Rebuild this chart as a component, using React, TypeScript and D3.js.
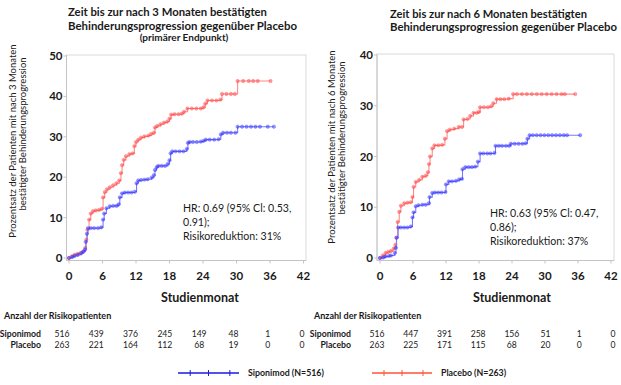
import React from "react";
import * as d3 from "d3";

// ---------- DATA ----------
const monthTicks = [0, 6, 12, 18, 24, 30, 36, 42];

// Left panel (3-month confirmed disability progression): [month, percent]
const placebo3: [number, number][] = [
  [0,0],[0.5,0.4],[1,0.8],[1.5,1],[2,1.2],[2.5,1.6],[2.9,2.5],[3.1,4.5],[3.3,7],[3.6,9.5],[3.9,11],[4.3,11.6],[4.8,11.8],[5.4,11.9],[5.9,12.2],
  [6.1,15],[6.4,16.3],[6.8,17],[7.3,17.5],[7.9,18],[8.5,18.5],[9.0,19.2],[9.3,21],[9.5,23],[9.8,24.3],[10.2,25.2],[10.8,25.7],[11.4,25.9],
  [11.7,27.7],[12,28.7],[12.4,29.3],[12.9,29.8],[13.5,30.1],[14.2,30.3],[14.7,30.7],[15.2,31],[15.4,32.3],[15.8,32.7],[16.4,33.1],[17,33.5],
  [17.6,33.8],[18.0,34.5],[18.3,35.5],[18.9,35.6],[19.6,35.6],[20.2,35.7],[20.6,36.2],[21.2,37],[22,37],[22.8,37],[23.6,37],[24.1,37.3],
  [24.4,38.2],[24.8,39],[25.6,39],[26.4,39],[27.1,39.2],[27.4,40.6],[28.2,40.6],[29,40.6],[29.7,40.6],[30.2,43.8],[31.2,43.8],[32.2,43.8],
  [33,43.8],[33.8,43.8],[36.1,43.8]
];
const siponimod3: [number, number][] = [
  [0,0],[0.6,0.3],[1,0.5],[1.6,0.8],[2.2,1.2],[2.6,1.6],[2.9,2.1],[3.0,4],[3.2,6],[3.4,7.4],[3.9,7.4],[4.5,7.4],[5.2,7.4],[5.8,7.6],
  [6.1,9.5],[6.3,11],[6.7,12.3],[7.3,12.8],[7.9,12.9],[8.5,12.9],[8.9,13.3],[9.1,15],[9.5,16],[10,16.2],[10.6,16.2],[11.2,16.2],[11.8,16.4],
  [12.1,18.5],[12.4,19.2],[12.9,19.3],[13.5,19.4],[14.1,19.5],[14.8,19.9],[15.2,20.5],[15.4,21.8],[15.7,22.5],[16,22.8],[16.6,22.8],[17.2,22.8],
  [17.7,23.3],[18.0,24.2],[18.2,25.9],[18.5,26.4],[19.1,26.4],[19.8,26.4],[20.5,26.4],[21.1,27],[21.3,28.5],[21.6,28.7],[22.2,28.7],[22.9,28.7],
  [23.6,28.8],[24.1,29],[24.5,29.3],[25.2,29.3],[26,29.3],[26.8,29.4],[27.2,30.6],[27.6,31],[28.3,31],[29,31],[29.8,31],[30.2,32.5],[31,32.5],
  [31.8,32.5],[32.6,32.5],[33.4,32.5],[34.2,32.5],[35.6,32.5],[36.7,32.5]
];

// Right panel (6-month confirmed disability progression)
const placebo6: [number, number][] = [
  [0,0],[0.5,0.5],[1,1],[1.5,1.2],[2,1.4],[2.5,1.9],[2.8,2.6],[3.0,4],[3.2,7.1],[3.5,9.1],[3.8,10.3],[4.4,10.8],[5,10.9],[5.6,11],[5.9,12],
  [6.1,14],[6.5,15],[7.1,15.4],[7.7,16],[8.3,16.2],[8.7,16.9],[8.9,18.5],[9.1,20],[9.5,21.6],[9.9,22.2],[10.6,22.2],[11.3,22.3],[11.8,23.5],
  [12.2,25],[12.7,25.3],[13.5,25.5],[14.3,25.8],[14.9,25.8],[15.2,27.3],[15.9,27.4],[16.4,28],[17,28.6],[17.6,28.6],[18.0,28.8],[18.2,29.7],
  [18.9,29.7],[19.6,29.7],[20.2,29.9],[20.6,30.5],[21.2,31.3],[21.9,31.3],[22.6,31.3],[23.4,31.4],[24.2,32.3],[24.9,32.3],[25.8,32.3],
  [26.7,32.3],[27.6,32.3],[28.5,32.3],[29.4,32.3],[30.3,32.3],[31.2,32.3],[32.1,32.3],[33,32.3],[33.6,32.3],[35.5,32.3]
];
const siponimod6: [number, number][] = [
  [0,0],[0.6,0.1],[1,0.3],[1.6,0.4],[2,0.5],[2.7,1],[2.9,2],[3.0,4],[3.3,6],[3.8,6],[4.4,6],[5,6],[5.6,6.2],[5.9,8],[6.1,9],[6.5,10.2],
  [7,10.4],[7.7,10.5],[8.3,10.5],[8.9,10.8],[9.0,12],[9.5,12.8],[10,12.9],[10.6,12.9],[11.2,12.9],[11.9,13],[12.0,14.5],[12.5,15.1],[13.1,15.1],
  [13.8,15.2],[14.4,15.5],[14.9,15.6],[15.0,17.5],[15.5,17.9],[16.1,17.9],[16.7,17.9],[17.3,18],[17.8,19],[18.2,20.6],[18.8,20.6],[19.5,20.6],
  [20.1,20.6],[20.8,20.7],[21.0,22.1],[21.6,22.1],[22.2,22.1],[22.9,22.1],[23.5,22.1],[23.8,22.5],[24.5,22.5],[25.2,22.5],[25.9,22.5],[26.5,22.6],
  [26.8,23.5],[27.2,24.2],[27.8,24.2],[28.5,24.2],[29.2,24.2],[29.9,24.2],[30.6,24.2],[31.3,24.2],[32,24.2],[32.7,24.2],[33.4,24.2],[34,24.2],[36.4,24.2]
];

// Patients at risk
const riskSiponimod3 = [516, 439, 376, 245, 149, 48, 1, 0];
const riskPlacebo3 = [263, 221, 164, 112, 68, 19, 0, 0];
const riskSiponimod6 = [516, 447, 391, 258, 156, 51, 1, 0];
const riskPlacebo6 = [263, 225, 171, 115, 68, 20, 0, 0];

const yTicks3 = [0, 10, 20, 30, 40, 50];
const yTicks6 = [0, 10, 20, 30, 40];

// ---------- STYLE ----------
const FONT = "Lato, 'Open Sans', sans-serif";
const BLUE_LINE = "#7a7aff";
const BLUE_MARK = "#2a2aff";
const RED_LINE = "#ff8a8a";
const RED_MARK = "#ff3a3a";
const INK = "#1a1a1a";

type TitleLine = { text: string; x: number; y: number; size: number; anchor?: string; len?: number };
type PanelProps = {
  left: number; right: number; x0: number; x1: number;
  top: number; yTopPx: number; yMax: number; yTicks: number[];
  placebo: [number, number][]; siponimod: [number, number][];
  titleLines: TitleLine[];
  yTitle: [string, string]; yTitleX: [number, number]; yTitleY: [number, number];
  hr: string[]; hrX: number; hrY: number;
  studX: number;
  riskS: number[]; riskP: number[]; riskX0: number; riskX1: number; labelRight: number;
};

function Series({ data, x, y, line, mark }: any) {
  const gen = d3.line<[number, number]>().x(d => x(d[0])).y(d => y(d[1])).curve(d3.curveStepAfter);
  return (
    <g>
      <path d={gen(data) || ""} fill="none" stroke={line} strokeWidth={1.1} />
      {data.map((d: [number, number], i: number) => (
        <circle key={i} cx={x(d[0])} cy={y(d[1])} r={1.7} fill={mark} fillOpacity={0.45} stroke={mark} strokeOpacity={0.5} strokeWidth={0.6} />
      ))}
    </g>
  );
}

function Panel(p: PanelProps) {
  const bottomPx = 258;
  const x = d3.scaleLinear().domain([0, 42]).range([p.x0, p.x1]);
  const y = d3.scaleLinear().domain([0, p.yMax]).range([bottomPx, p.yTopPx]);
  const frameBottom = 260.5;
  const risk = d3.scalePoint<number>().domain(monthTicks).range([p.riskX0, p.riskX1]);
  return (
    <g fontFamily={FONT}>
      {p.titleLines.map((t, i) => (
        <text key={i} x={t.x} y={t.y} fontSize={t.size} fontWeight="bold" textAnchor={t.anchor || "start"} fill={INK}
          {...(t.len ? { textLength: t.len, lengthAdjust: "spacingAndGlyphs" } : {})}>{t.text}</text>
      ))}
      <rect x={p.left} y={p.top} width={p.right - p.left} height={frameBottom - p.top} fill="none" stroke="#d9d9d9" strokeWidth={1} />
      <line x1={p.left} x2={p.left} y1={p.top} y2={frameBottom} stroke="#c4c4c4" />
      <line x1={p.left} x2={p.right} y1={frameBottom} y2={frameBottom} stroke="#c4c4c4" />
      {p.yTicks.map(v => (
        <g key={v}>
          <line x1={p.left - 3} x2={p.left} y1={y(v)} y2={y(v)} stroke="#c4c4c4" />
          <text x={p.left - 4} y={y(v)} dy="0.35em" textAnchor="end" fontSize={11.5} fontWeight="bold" fill={INK}>{v}</text>
        </g>
      ))}
      {monthTicks.map(v => (
        <g key={v}>
          <line x1={x(v)} x2={x(v)} y1={frameBottom} y2={frameBottom + 3} stroke="#c4c4c4" />
          <text x={x(v)} y={279.5} textAnchor="middle" fontSize={11.5} fontWeight="bold" fill={INK}>{v}</text>
        </g>
      ))}
      <Series data={p.placebo} x={x} y={y} line={RED_LINE} mark={RED_MARK} />
      <Series data={p.siponimod} x={x} y={y} line={BLUE_LINE} mark={BLUE_MARK} />
      {p.hr.map((t, i) => (
        <text key={i} x={p.hrX} y={p.hrY + i * 14} fontSize={10.6} fill={INK}>{t}</text>
      ))}
      {p.yTitle.map((t, i) => (
        <text key={i} transform={`translate(${p.yTitleX[i]},${p.yTitleY[i]}) rotate(-90)`} textAnchor="middle" fontSize={9.5} fill={INK}>{t}</text>
      ))}
      <text x={p.studX} y={302} textAnchor="middle" fontSize={12.5} fontWeight="bold" fill={INK}>Studienmonat</text>
      <text x={p.labelRight - 37} y={319} fontSize={9} fontWeight="bold" fill={INK}>Anzahl der Risikopatienten</text>
      <text x={p.labelRight} y={337} textAnchor="end" fontSize={8.7} fontWeight="bold" fill={INK}>Siponimod</text>
      <text x={p.labelRight} y={348} textAnchor="end" fontSize={8.7} fontWeight="bold" fill={INK}>Placebo</text>
      {monthTicks.map((m, i) => (
        <g key={m}>
          <text x={risk(m)} y={337} textAnchor="middle" fontSize={8.6} fill={INK}>{p.riskS[i]}</text>
          <text x={risk(m)} y={348} textAnchor="middle" fontSize={8.6} fill={INK}>{p.riskP[i]}</text>
        </g>
      ))}
    </g>
  );
}

function LegendItem({ x0, x1, y, color, label }: any) {
  const ticks = [0.2, 0.5, 0.85].map(f => x0 + (x1 - x0) * f);
  return (
    <g fontFamily={FONT}>
      <line x1={x0} x2={x1} y1={y} y2={y} stroke={color} strokeWidth={1.6} />
      {ticks.map((t, i) => <line key={i} x1={t} x2={t} y1={y - 3} y2={y + 3} stroke={color} strokeWidth={1} />)}
      <text x={x1 + 9} y={y} dy="0.35em" fontSize={8.8} fontWeight="bold" fill={INK}>{label}</text>
    </g>
  );
}

export default function App() {
  return (
    <svg width={621} height={385} style={{ position: "absolute", left: 0, top: 0, background: "#fff" }}>
      <Panel
        left={66.5} right={306} x0={69} x1={303.5} top={55} yTopPx={56} yMax={50} yTicks={yTicks3}
        placebo={placebo3} siponimod={siponimod3}
        titleLines={[
          { text: "Zeit bis zur nach 3 Monaten bestätigten", x: 68, y: 16, size: 12, len: 199 },
          { text: "Behinderungsprogression gegenüber Placebo", x: 68, y: 29.5, size: 12, len: 229 },
          { text: "(primärer Endpunkt)", x: 184, y: 41, size: 10, anchor: "middle" },
        ]}
        yTitle={["Prozentsatz  der Patienten mit nach 3  Monaten", "bestätigter Behinderungsprogression"]}
        yTitleX={[16, 26]} yTitleY={[141, 134]}
        hr={["HR: 0.69 (95% Cl: 0.53,", "0.91);", "Risikoreduktion: 31%"]} hrX={183} hrY={212}
        studX={200}
        riskS={riskSiponimod3} riskP={riskPlacebo3} riskX0={62} riskX1={302} labelRight={41}
      />
      <Panel
        left={377} right={614} x0={380} x1={611} top={54} yTopPx={55} yMax={40} yTicks={yTicks6}
        placebo={placebo6} siponimod={siponimod6}
        titleLines={[
          { text: "Zeit bis zur nach 6 Monaten bestätigten", x: 390, y: 18, size: 11.4, len: 197 },
          { text: "Behinderungsprogression gegenüber Placebo", x: 390, y: 31, size: 11.4, len: 227 },
        ]}
        yTitle={["Prozentsatz  der Patienten mit nach 6 Monaten", "bestätigter Behinderungsprogression"]}
        yTitleX={[335, 345]} yTitleY={[147, 138]}
        hr={["HR: 0.63 (95% Cl: 0.47,", "0.86);", "Risikoreduktion: 37%"]} hrX={490} hrY={217}
        studX={512}
        riskS={riskSiponimod6} riskP={riskPlacebo6} riskX0={377} riskX1={613} labelRight={351}
      />
      <LegendItem x0={178} x1={239} y={373} color="#1a1ae6" label="Siponimod (N=516)" />
      <LegendItem x0={372} x1={432} y={373} color="#ff5533" label="Placebo (N=263)" />
    </svg>
  );
}
